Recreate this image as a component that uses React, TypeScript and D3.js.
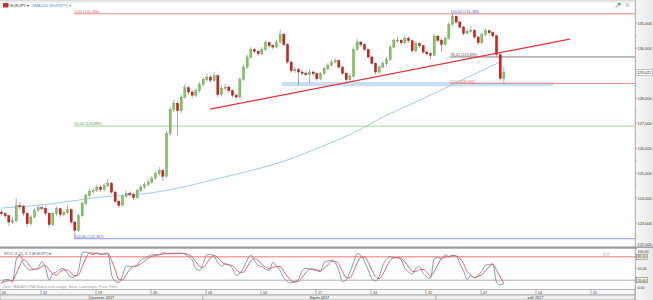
import React from "react";
import * as d3 from "d3";

// ---------- DATA ----------
const firstOpen = 123.45;
const closes = [
  123.38,123.30,123.05,123.10,123.70,123.68,123.40,122.98,123.25,123.52,
  123.62,123.60,123.40,122.95,123.38,123.58,123.35,123.42,123.55,123.05,
  122.72,123.30,123.80,124.10,124.28,124.32,124.45,124.35,124.50,124.60,
  124.25,123.88,123.72,124.08,124.20,124.15,124.02,124.30,124.45,124.55,
  124.65,124.80,124.98,125.10,124.88,126.60,127.55,127.80,127.50,128.05,
  128.42,128.25,128.12,128.30,128.55,128.75,128.85,128.72,128.90,128.15,
  128.40,128.45,128.30,128.12,128.05,128.75,129.25,129.65,129.95,129.88,
  129.78,129.95,130.22,130.10,130.05,130.25,130.55,130.15,129.45,129.10,
  129.15,129.05,129.00,128.95,129.05,128.98,128.78,128.98,129.18,129.32,
  129.45,129.50,129.25,129.00,128.75,128.88,129.95,130.25,130.15,129.95,
  129.65,129.40,129.05,129.25,129.38,129.55,130.05,130.30,130.32,130.22,
  130.40,130.30,129.90,130.18,130.10,129.85,129.78,129.72,130.48,130.32,
  130.15,130.40,130.95,131.28,131.05,130.85,130.60,130.68,130.72,130.45,
  130.22,130.55,130.70,130.62,130.50,129.75,128.80,129.02,
];
const highs = [
  123.55,123.45,123.35,123.25,124.00,123.85,123.75,123.45,123.32,123.60,
  123.72,123.70,123.68,123.45,123.45,123.68,123.62,123.52,123.70,123.60,
  123.10,123.38,123.88,124.18,124.40,124.42,124.55,124.52,124.60,124.78,
  124.65,124.30,123.95,124.15,124.32,124.28,124.22,124.38,124.55,124.65,
  124.78,124.90,125.08,125.25,125.18,126.70,127.65,127.95,127.90,128.15,
  128.55,128.50,128.32,128.40,128.65,128.85,129.00,128.92,129.05,128.95,
  128.50,128.58,128.52,128.35,128.20,128.85,129.35,129.75,130.05,130.02,
  129.95,130.05,130.32,130.28,130.18,130.35,130.75,130.62,130.20,129.50,
  129.25,129.22,129.15,129.10,129.15,129.12,129.02,129.05,129.25,129.42,
  129.55,129.62,129.55,129.30,129.05,128.98,130.05,130.38,130.30,130.20,
  130.00,129.70,129.45,129.32,129.48,129.65,130.15,130.40,130.45,130.38,
  130.52,130.48,130.35,130.28,130.25,130.15,129.92,129.85,130.58,130.55,
  130.38,130.48,131.05,131.386,131.32,131.10,130.90,130.78,130.90,130.78,
  130.50,130.62,130.80,130.75,130.68,130.55,129.80,129.25,
];
const lows = [
  123.30,123.20,122.90,122.98,123.05,123.55,123.30,122.85,122.92,123.20,
  123.45,123.50,123.30,122.85,122.90,123.30,123.25,123.28,123.38,122.95,
  122.387,122.65,123.25,123.72,124.02,124.18,124.25,124.25,124.28,124.45,
  124.18,123.80,123.62,123.68,124.00,124.05,123.92,123.98,124.25,124.38,
  124.48,124.58,124.75,124.90,124.70,124.82,126.50,127.45,126.50,127.42,
  127.98,128.15,128.00,128.05,128.25,128.48,128.68,128.62,128.65,128.05,
  128.08,128.32,128.22,128.02,127.95,128.00,128.70,129.18,129.58,129.78,
  129.68,129.72,129.90,130.00,129.95,130.00,130.20,130.08,129.38,129.02,
  129.00,128.50,128.92,128.88,128.60,128.90,128.70,128.72,128.92,129.12,
  129.28,129.40,129.18,128.92,128.65,128.70,128.82,129.90,130.05,129.88,
  129.58,129.32,128.95,129.00,129.20,129.30,129.50,130.00,130.22,130.12,
  130.15,130.22,129.82,129.85,130.02,129.78,129.70,129.55,129.68,130.25,
  129.85,130.10,130.35,130.90,130.98,130.78,130.52,130.55,130.62,130.38,
  130.12,130.18,130.50,130.55,130.42,129.68,128.70,128.591,
];
const stochK = [
  12,22,22,15,72,85,62,50,46,48,
  52,67,52,20,37,41,48,50,38,27,
  29,45,90,92,89,86,90,86,87,90,
  35,17,14,32,56,56,55,59,72,77,
  81,85,85,86,90,89,88,89,89,89,
  87,80,72,50,45,63,85,86,81,65,
  56,62,60,50,32,38,52,72,84,70,
  58,55,48,45,66,55,44,26,17,13,
  16,22,45,50,49,47,44,42,66,69,
  71,65,45,16,21,40,65,88,83,68,
  46,24,18,30,58,74,80,78,77,72,
  51,41,36,50,55,38,28,25,75,78,
  75,85,81,83,82,62,44,22,32,26,
  33,43,59,60,62,15,8,11,
];
// SMA 200 read at sparse candle positions
const smaIdx = [0, 13.2, 26.9, 40.5, 49.5, 59.6, 68.6, 77.9, 86.9, 95.9, 105.1, 114.1, 125, 135.9];
const smaVal = [123.61, 123.77, 124.05, 124.21, 124.45, 124.81, 125.13, 125.53, 126.05, 126.61, 127.33, 127.93, 128.69, 129.45];
// trend line (candle index, price)
const trendIdx = [56.9, 155];
const trendVal = [127.57, 130.37];
// support zone
const zoneIdx = [76.5, 150.4];
const zoneVal = [128.48, 128.65];
// Fibonacci A (low 122.387 -> high 131.386)
const fibAStartIdx = 19.8;
const fibALabels = ["0,00 (131,386)", "50,00 (126,887)", "100,00 (122,387)"];
const fibAPrices = [131.386, 126.887, 122.387];
const fibAColors = ["#f3a3a3", "#b9deb0", "#a9a9f5"];
const fibATextColors = ["#e06666", "#5c9e55", "#5a5ad8"];
// Fibonacci B (high 131.386 -> low 128.591)
const fibBStartIdx = 122.3;
const fibBLabels = ["100,00 (131,386)", "38,20 (129,659)", "0,00 (128,591)"];
const fibBPrices = [131.386, 129.659, 128.591];
const fibBColors = ["#f3a3a3", "#b5b5b5", "#f09090"];
const fibBTextColors = ["#5a5ad8", "#555555", "#e05555"];
const lastPrice = 129.022;
const priceTickLabels = [122, 123, 124, 125, 126, 127, 128, 129, 130, 131];
const stochAxisVals = [100, 80, 50, 20, 0];
// date axis (trading days from 12 Jul 2017)
const dayTickLabels = ["05", "12", "19", "26", "03", "10", "17", "24", "31", "07", "14", "21"];
const dayTickDays = [-5, 0, 5, 10, 15, 20, 25, 30, 35, 40, 45, 50];
const monthLabels = ["Červenec 2017", "Srpen 2017", "září 2017"];
const monthBoundDays = [14.7, 35.9];

const FONT = "'Liberation Sans', Arial, sans-serif";

export default function App() {
  const W = 653, H = 300;
  const axisX = 635;
  const x = d3.scaleLinear().domain([0, 5]).range([41, 96]);
  const candleDay = (i: number) => i / 3 - 3.59;
  const xi = (i: number) => x(candleDay(i));
  const y = d3.scaleLinear().domain([122, 131]).range([248.3, 23.3]);
  const ys = d3.scaleLinear().domain([0, 100]).range([288, 249]);

  const opens = closes.map((c, i) => (i === 0 ? firstOpen : closes[i - 1]));
  const stochD = stochK.map((_, i) => {
    const s = stochK.slice(Math.max(0, i - 2), i + 1);
    return d3.mean(s) as number;
  });

  const smaLine = d3.line<number>().x((_, i) => xi(smaIdx[i])).y((v) => y(v)).curve(d3.curveMonotoneX)(smaVal) || "";
  const kLine = d3.line<number>().x((_, i) => xi(i)).y((v) => ys(v)).curve(d3.curveMonotoneX)(stochK) || "";
  const dLine = d3.line<number>().x((_, i) => xi(i)).y((v) => ys(v)).curve(d3.curveMonotoneX)(stochD) || "";

  const minorTicks = d3.range(122, 131.51, 0.5);
  const bw = 2.1;

  const monthEdges = [x.invert(0), ...monthBoundDays, x.invert(axisX)];

  return (
    <svg width={W} height={H} style={{ position: "absolute", left: 0, top: 0, background: "#fff" }} fontFamily={FONT}>
      <defs>
        <clipPath id="mainClip"><rect x={0} y={3} width={axisX} height={243.5} /></clipPath>
        <clipPath id="stClip"><rect x={0} y={249} width={axisX} height={40} /></clipPath>
        <linearGradient id="hdr" x1="0" y1="0" x2="0" y2="1">
          <stop offset="0" stopColor="#d8d8d8" />
          <stop offset="1" stopColor="#ffffff" />
        </linearGradient>
        <linearGradient id="axisBg" x1="0" y1="0" x2="1" y2="0">
          <stop offset="0" stopColor="#f7f7f7" />
          <stop offset="1" stopColor="#e9e9e9" />
        </linearGradient>
      </defs>
      <rect x={0} y={0} width={W} height={H} fill="#fff" />
      <rect x={0} y={0} width={axisX} height={3.5} fill="url(#hdr)" />

      {/* main pane */}
      <g clipPath="url(#mainClip)">
        <rect x={xi(zoneIdx[0])} width={xi(zoneIdx[1]) - xi(zoneIdx[0])} y={y(zoneVal[1])} height={y(zoneVal[0]) - y(zoneVal[1])} fill="#c9def2" />
        {fibAPrices.map((p, k) => (
          <line key={"fa" + k} x1={xi(fibAStartIdx)} x2={axisX} y1={y(p)} y2={y(p)} stroke={fibAColors[k]} strokeWidth={1.1} />
        ))}
        {fibBPrices.map((p, k) => (
          <line key={"fb" + k} x1={xi(fibBStartIdx)} x2={axisX} y1={y(p)} y2={y(p)} stroke={fibBColors[k]} strokeWidth={k === 1 ? 1.6 : 1.1} />
        ))}
        <path d={smaLine} fill="none" stroke="#92c6ec" strokeWidth={0.9} />
        {closes.map((c, i) => {
          const o = opens[i];
          const up = c >= o;
          const cx = xi(i);
          const top = y(Math.max(o, c));
          const h = Math.max(0.7, Math.abs(y(o) - y(c)));
          return (
            <g key={"c" + i}>
              <line x1={cx} x2={cx} y1={y(highs[i])} y2={y(lows[i])} stroke="#8c8c8c" strokeWidth={0.7} />
              <rect x={cx - bw / 2} width={bw} y={top} height={h} fill={up ? "#86c660" : "#e01b1b"} stroke={up ? "#5b9140" : "#7a0a0a"} strokeWidth={0.35} />
            </g>
          );
        })}
        <line x1={xi(trendIdx[0])} y1={y(trendVal[0])} x2={xi(trendIdx[1])} y2={y(trendVal[1])} stroke="#e8303a" strokeWidth={1.2} />
        {fibALabels.map((t, k) => (
          <text key={"fat" + k} x={xi(fibAStartIdx) + 0.5} y={y(fibAPrices[k]) - 0.9} fontSize={3.8} fill={fibATextColors[k]}>{t}</text>
        ))}
        {fibBLabels.map((t, k) => (
          <text key={"fbt" + k} x={xi(fibBStartIdx) + 0.5} y={y(fibBPrices[k]) - 0.9} fontSize={3.8} fill={fibBTextColors[k]}>{t}</text>
        ))}
      </g>

      {/* header */}
      <rect x={3} y={3} width={5.5} height={4.5} fill="#c8302a" rx={0.6} />
      <text x={10.5} y={7} fontSize={4} fill="#333">EURJPY ▾</text>
      <text x={32} y={7} fontSize={4} fill="#4a8fd0">SMA 200 (EURJPY) ▾</text>
      <path d="M616,7.5 L620,3.5 M618,3.5 L620,3.5 L620,5.5" stroke="#3aa03a" strokeWidth={1} fill="none" />
      <rect x={626} y={3.5} width={3} height={3} fill="#ddd" stroke="#bbb" strokeWidth={0.4} />

      {/* separator */}
      <rect x={0} y={246.5} width={W} height={2.2} fill="#9a9a9a" />

      {/* stochastic pane */}
      <line x1={0} x2={axisX} y1={ys(80)} y2={ys(80)} stroke="#f4a3a3" strokeWidth={1.4} />
      <line x1={0} x2={axisX} y1={ys(20)} y2={ys(20)} stroke="#9c9c9c" strokeWidth={0.8} />
      <g clipPath="url(#stClip)">
        <path d={kLine} fill="none" stroke="#6f8db3" strokeWidth={0.9} />
        <path d={dLine} fill="none" stroke="#e25555" strokeWidth={0.9} />
      </g>
      <text x={4} y={255} fontSize={3.6} fill="#555">STOC-S (5), 3, 3 (EURJPY) ▾</text>
      <rect x={603} y={253} width={2.6} height={2.6} fill="#e4e4e4" stroke="#c4c4c4" strokeWidth={0.3} />
      <rect x={607} y={253} width={2.6} height={2.6} fill="#e4e4e4" stroke="#c4c4c4" strokeWidth={0.3} />
      <text x={3} y={288.4} fontSize={3.2} fill="#9a9a9a">Zdroj: OANDA/XCYNA    Sledujte naše analýzy: Burza, Copenhagen, Patria, Forex</text>

      {/* date axis */}
      <rect x={0} y={289.5} width={axisX} height={5.5} fill="#f6f6f6" stroke="#8a8a8a" strokeWidth={0.6} />
      <rect x={0} y={295} width={axisX} height={5} fill="#efefef" stroke="#8a8a8a" strokeWidth={0.6} />
      {dayTickDays.map((d, k) => {
        const px = x(d);
        return (
          <g key={"dt" + k}>
            {px > 0 && px < axisX && <line x1={px} x2={px} y1={289.5} y2={295} stroke="#8a8a8a" strokeWidth={0.6} />}
            <text x={Math.max(2, px + 2)} y={293.9} fontSize={3.6} fill="#333">{dayTickLabels[k]}</text>
          </g>
        );
      })}
      {monthBoundDays.map((d, k) => (
        <line key={"mb" + k} x1={x(d)} x2={x(d)} y1={295} y2={300} stroke="#8a8a8a" strokeWidth={0.6} />
      ))}
      {monthLabels.map((m, k) => (
        <text key={"ml" + k} x={(x(monthEdges[k]) + x(monthEdges[k + 1])) / 2} y={299} fontSize={3.8} fill="#333" textAnchor="middle">{m}</text>
      ))}

      {/* right axis */}
      <rect x={axisX} y={0} width={W - axisX} height={H} fill="url(#axisBg)" />
      <line x1={axisX + 0.3} x2={axisX + 0.3} y1={0} y2={H} stroke="#8a8a8a" strokeWidth={0.7} />
      {minorTicks.map((t, k) => (
        <line key={"mt" + k} x1={axisX} x2={axisX + (Number.isInteger(t) ? 2 : 1.2)} y1={y(t)} y2={y(t)} stroke="#777" strokeWidth={0.5} />
      ))}
      {priceTickLabels.map((t, k) => (
        <text key={"pt" + k} x={axisX + 2.5} y={Math.min(y(t) + 1.4, 246.2)} fontSize={3.9} fill="#333">{d3.format(".3f")(t).replace(".", ",")}</text>
      ))}
      <rect x={axisX} y={246.5} width={W - axisX} height={1.4} fill="#9a9a9a" />
      <rect x={axisX + 1} y={y(lastPrice) - 3} width={W - axisX - 1.5} height={6} fill="#ffffff" stroke="#909090" strokeWidth={0.5} />
      <text x={axisX + 2.2} y={y(lastPrice) + 1.4} fontSize={3.9} fill="#222">{d3.format(".3f")(lastPrice).replace(".", ",")}</text>
      {stochAxisVals.map((v, k) => {
        const boxed = v === 80 || v === 20;
        return (
          <g key={"sa" + k}>
            <line x1={axisX} x2={axisX + 1.5} y1={ys(v)} y2={ys(v)} stroke="#777" strokeWidth={0.5} />
            {boxed && <rect x={axisX + 1.3} y={ys(v) - 2.6} width={11} height={5.2} fill="#f3f1d8" stroke="#6a6a6a" strokeWidth={0.5} />}
            <text x={axisX + 2.4} y={v === 100 ? 252.6 : ys(v) + 1.3} fontSize={3.6} fill="#333">{d3.format(".2f")(v).replace(".", ",")}</text>
          </g>
        );
      })}
    </svg>
  );
}
